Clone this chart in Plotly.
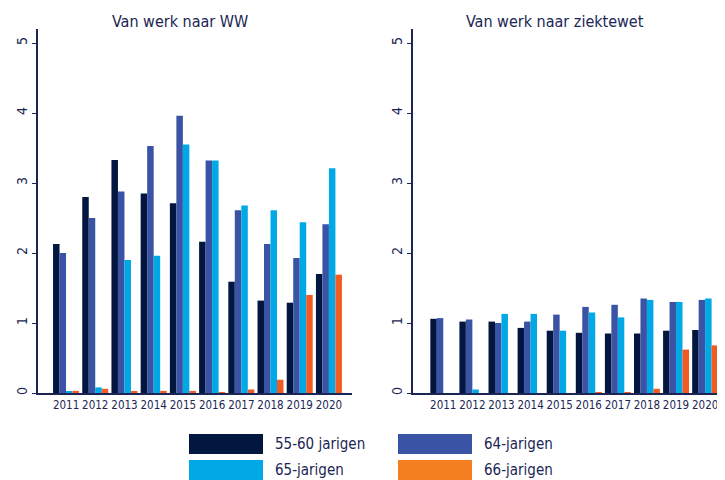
import plotly.graph_objects as go
from plotly.subplots import make_subplots

years = ["2011", "2012", "2013", "2014", "2015", "2016", "2017", "2018", "2019", "2020"]
series_names = ["55-60 jarigen", "64-jarigen", "65-jarigen", "66-jarigen"]

# van werk naar WW
ww_55_60 = [2.13, 2.80, 3.33, 2.85, 2.71, 2.16, 1.59, 1.32, 1.29, 1.70]
ww_64 = [2.00, 2.50, 2.88, 3.53, 3.96, 3.32, 2.61, 2.13, 1.93, 2.41]
ww_65 = [0.02, 0.08, 1.90, 1.96, 3.55, 3.32, 2.68, 2.61, 2.44, 3.21]
ww_66 = [0.03, 0.06, 0.02, 0.03, 0.03, 0.01, 0.05, 0.19, 1.40, 1.69]

# van werk naar ziektewet
zw_55_60 = [1.06, 1.02, 1.02, 0.93, 0.89, 0.86, 0.85, 0.85, 0.89, 0.90]
zw_64 = [1.07, 1.05, 1.00, 1.02, 1.12, 1.23, 1.26, 1.35, 1.30, 1.33]
zw_65 = [0.00, 0.05, 1.13, 1.13, 0.89, 1.15, 1.08, 1.33, 1.30, 1.35]
zw_66 = [0.00, 0.00, 0.00, 0.00, 0.00, 0.01, 0.01, 0.06, 0.62, 0.68]

bar_colors = ["#03163f", "#3a53a4", "#00a9e6", "#f15a22"]
swatch_colors = ["#03163f", "#3a53a4", "#00a9e6", "#f47f20"]
ink = "#1b2654"
font = "DejaVu Sans Condensed, Liberation Sans Narrow, sans-serif"

# page has an 8px body margin, so the figure is laid out 8px smaller
W, H = 717, 472
plot_top, plot_bottom = 21, 385
plot_h = plot_bottom - plot_top

fig = make_subplots(rows=1, cols=2, horizontal_spacing=0.05)

for i, vals in enumerate([ww_55_60, ww_64, ww_65, ww_66]):
    fig.add_trace(go.Bar(x=years, y=vals, name=series_names[i],
                         marker=dict(color=bar_colors[i], line_width=0),
                         showlegend=False), row=1, col=1)
for i, vals in enumerate([zw_55_60, zw_64, zw_65, zw_66]):
    fig.add_trace(go.Bar(x=years, y=vals, name=series_names[i],
                         marker=dict(color=bar_colors[i], line_width=0),
                         showlegend=False), row=1, col=2)

axis_common = dict(showline=True, linecolor=ink, linewidth=1.5, showgrid=False,
                   zeroline=False)
fig.update_xaxes(**axis_common, ticks="", tickangle=0,
                 tickfont=dict(family=font, size=11.5, color=ink))
fig.update_yaxes(**axis_common, range=[0, 5.2], tickvals=[0, 1, 2, 3, 4, 5],
                 ticks="outside", ticklen=4, tickcolor=ink, tickangle=-90,
                 tickfont=dict(family=font, size=14, color=ink))
fig.update_layout(
    xaxis=dict(domain=[30 / W, 344 / W], range=[-0.96, 9.79]),
    xaxis2=dict(domain=[405 / W, 714 / W], range=[-1.04, 9.58]),
)

# panel titles
for txt, cx in [("Van werk naar WW", 172), ("Van werk naar ziektewet", 547)]:
    fig.add_annotation(text=txt, x=cx / W, y=1.0, xref="paper", yref="paper",
                       yshift=-4, showarrow=False, xanchor="center", yanchor="bottom",
                       font=dict(family=font, size=16, color=ink))

# legend drawn below the panels
legend_cells = [(181, 426), (390, 426), (181, 452), (390, 452)]
for i, (lx, ly) in enumerate(legend_cells):
    fig.add_shape(type="rect", xref="paper", yref="paper",
                  x0=lx / W, x1=(lx + 74) / W,
                  y0=(plot_bottom - ly) / plot_h, y1=(plot_bottom - ly - 20) / plot_h,
                  fillcolor=swatch_colors[i], line_width=0)
    fig.add_annotation(text=series_names[i], xref="paper", yref="paper",
                       x=(lx + 84) / W, y=(plot_bottom - ly - 10) / plot_h, showarrow=False,
                       xanchor="left", yanchor="middle",
                       font=dict(family=font, size=15, color=ink))

fig.update_layout(
    width=W, height=H,
    margin=dict(l=0, r=0, t=plot_top, b=H - plot_bottom),
    barmode="group", bargap=0.11, bargroupgap=0,
    plot_bgcolor="white", paper_bgcolor="white",
    showlegend=False,
)

fig.write_html("out.html")
